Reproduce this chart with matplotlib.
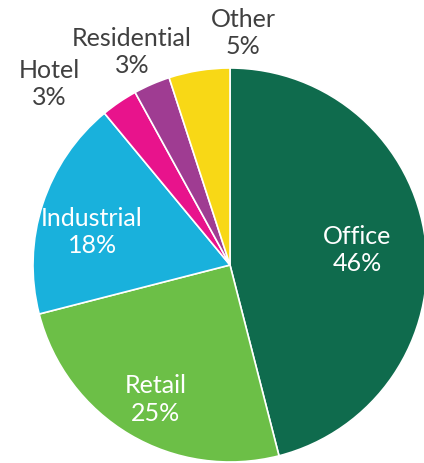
import numpy as np
import matplotlib.pyplot as plt

sectors = ['Office', 'Retail', 'Industrial', 'Hotel', 'Residential', 'Other']
shares = [46, 25, 18, 3, 3, 5]
colors = ['#0f6b4d', '#6cbf47', '#19b1dc', '#e8138c', '#9f3c92', '#f8d816']

# label placement: (radius, angle in degrees), text colour
label_pos = [(0.65, 6.7), (0.78, -119), (0.72, 166.5),
             (1.30, 135), (1.19, 114.7), (1.18, 86.8)]
label_col = ['white', 'white', 'white', '#404040', '#404040', '#404040']

W, H = 424, 463
fig = plt.figure(figsize=(W / 100, H / 100), dpi=100)
cx, cy, r = 230, 265, 197
ax = fig.add_axes([(cx - r) / W, (H - cy - r) / H, 2 * r / W, 2 * r / H])

wedges, _ = ax.pie(shares, colors=colors, startangle=90, counterclock=False,
                   radius=1, wedgeprops=dict(edgecolor='white', linewidth=1.2))
for w in wedges:
    w.set_clip_on(False)
ax.set_xlim(-1, 1)
ax.set_ylim(-1, 1)
ax.axis('off')

for name, val, (rr, ang), col in zip(sectors, shares, label_pos, label_col):
    a = np.deg2rad(ang)
    ax.text(rr * np.cos(a), rr * np.sin(a), f'{name}\n{val}%', ha='center', va='center',
            fontsize=18, color=col, family='Lato',
            linespacing=1.25, clip_on=False)

fig.savefig('out.png', dpi=100)
